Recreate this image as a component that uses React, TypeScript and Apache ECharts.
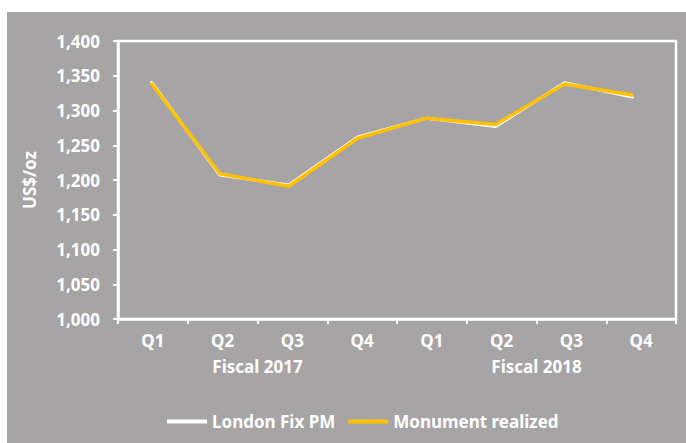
import React, { useEffect, useRef } from "react";
import * as echarts from "echarts";

const quarters = ["Q1", "Q2", "Q3", "Q4", "Q1", "Q2", "Q3", "Q4"];
const fiscalYears = ["Fiscal 2017", "Fiscal 2018"];
const londonFixPM = [1342, 1207, 1193, 1262, 1289, 1277, 1340, 1319];
const monumentRealized = [1340, 1209, 1191, 1260, 1289, 1280, 1338, 1322];
const yTicks = { min: 1000, max: 1400, interval: 50 };

const FONT = "Noto Sans";
const BG = "#a6a4a4";

export default function App() {
  const ref = useRef<HTMLDivElement>(null);
  useEffect(() => {
    document.body.style.margin = "0";
    const chart = echarts.init(ref.current!, null, { renderer: "svg" });
    const toPairs = (arr: number[]) => arr.map((v, i) => [i, v]);
    chart.setOption({
      animation: false,
      backgroundColor: BG,
      textStyle: { fontFamily: FONT, fontWeight: "bold", color: "#fff" },
      grid: {
        left: 111,
        right: 10,
        top: 29,
        bottom: 124,
        show: true,
        borderColor: "#fff",
        borderWidth: 2.5,
        backgroundColor: "transparent",
      },
      legend: {
        left: 155,
        top: 396,
        icon: "rect",
        itemWidth: 40,
        itemHeight: 4,
        itemGap: 13,
        textStyle: {
          color: "#fff",
          fontFamily: FONT,
          fontWeight: "bold",
          fontSize: 17,
        },
        data: ["London Fix PM", "Monument realized"],
      },
      xAxis: [
        {
          type: "category",
          data: quarters,
          boundaryGap: true,
          axisLine: { lineStyle: { color: "#fff", width: 2.5 } },
          axisTick: { show: true, length: 5, lineStyle: { color: "#fff", width: 2 } },
          axisLabel: { color: "#fff", fontFamily: FONT, fontWeight: "bold", fontSize: 17, margin: 13 },
          splitLine: { show: false },
        },
        {
          type: "category",
          data: fiscalYears,
          position: "bottom",
          offset: 26,
          axisLine: { show: false },
          axisTick: { show: false },
          axisLabel: { color: "#fff", fontFamily: FONT, fontWeight: "bold", fontSize: 17, margin: 13 },
          splitLine: { show: false },
        },
        {
          type: "value",
          min: -0.477,
          max: 7.616,
          show: false,
          splitLine: { show: false },
        },
      ],
      yAxis: {
        type: "value",
        min: yTicks.min,
        max: yTicks.max,
        interval: yTicks.interval,
        name: "US$/oz",
        nameLocation: "middle",
        nameRotate: 90,
        nameGap: 80,
        nameTextStyle: { color: "#fff", fontFamily: FONT, fontWeight: "bold", fontSize: 17 },
        axisLine: { show: true, onZero: false, lineStyle: { color: "#fff", width: 2.5 } },
        axisTick: { show: true, length: 5, lineStyle: { color: "#fff", width: 2 } },
        axisLabel: {
          color: "#fff",
          fontFamily: FONT,
          fontWeight: "bold",
          fontSize: 17,
          margin: 18,
          formatter: (v: number) => v.toLocaleString("en-US"),
        },
        splitLine: { show: false },
      },
      series: [
        {
          name: "London Fix PM",
          type: "line",
          xAxisIndex: 2,
          data: toPairs(londonFixPM),
          symbol: "none",
          color: "#ffffff",
          lineStyle: { color: "#ffffff", width: 3 },
          z: 2,
        },
        {
          name: "Monument realized",
          type: "line",
          xAxisIndex: 2,
          data: toPairs(monumentRealized),
          symbol: "none",
          color: "#ffc000",
          lineStyle: { color: "#ffc000", width: 3.5 },
          z: 3,
        },
      ],
    });
    return () => chart.dispose();
  }, []);
  return (
    <div style={{ width: 686, height: 443, position: "relative", background: "#fff" }}>
      <div ref={ref} style={{ position: "absolute", left: 7, top: 12, width: 679, height: 431 }} />
    </div>
  );
}
